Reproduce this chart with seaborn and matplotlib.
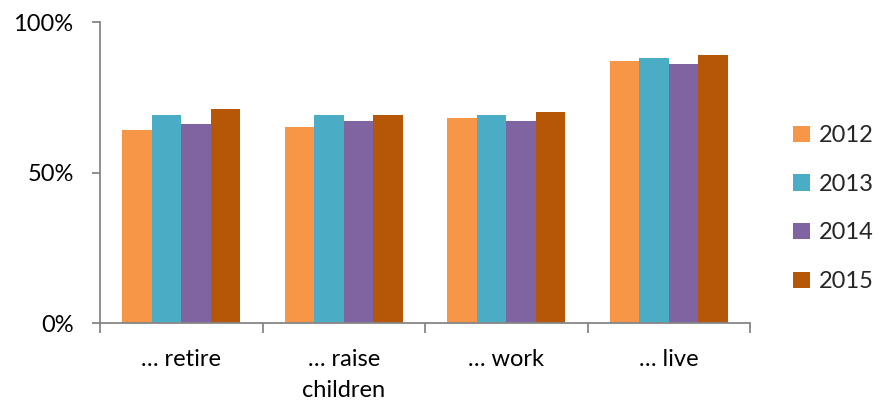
import matplotlib
matplotlib.use("Agg")
import matplotlib.pyplot as plt
from matplotlib.ticker import FixedLocator, FuncFormatter
import pandas as pd
import seaborn as sns

# 数据
places = ["… retire", "… raise\nchildren", "… work", "… live"]
years = ["2012", "2013", "2014", "2015"]
share_2012 = [64, 65, 68, 87]
share_2013 = [69, 69, 69, 88]
share_2014 = [66, 67, 67, 86]
share_2015 = [71, 69, 70, 89]
colors = ["#F79646", "#4BACC6", "#8064A2", "#B65708"]


def build_frame():
    rows = []
    for year, vals in zip(years, [share_2012, share_2013, share_2014, share_2015]):
        for place, v in zip(places, vals):
            rows.append({"place": place, "year": year, "share": v})
    return pd.DataFrame(rows)


def main():
    data = build_frame()

    sns.set_theme(style="white")
    plt.rcParams["font.family"] = ["Lato", "DejaVu Sans"]

    fig = plt.figure(figsize=(8.86, 4.03), dpi=100)
    ax = fig.add_axes([0.1129, 0.1985, 0.8465 - 0.1129, 0.9454 - 0.1985])

    sns.barplot(data=data, x="place", y="share", hue="year", order=places,
                hue_order=years, palette=colors, saturation=1, width=0.726,
                linewidth=0, ax=ax)

    axis_color = "#868686"
    ax.set_xlim(-0.5, 3.5)
    ax.set_ylim(0, 100)
    ax.set_yticks([0, 50, 100])
    ax.yaxis.set_major_formatter(FuncFormatter(lambda v, p: f"{v:.0f}%"))
    ax.xaxis.set_minor_locator(FixedLocator([-0.5, 0.5, 1.5, 2.5, 3.5]))

    for side in ["top", "right"]:
        ax.spines[side].set_visible(False)
    for side in ["left", "bottom"]:
        ax.spines[side].set_color(axis_color)
        ax.spines[side].set_linewidth(1.3)

    ax.tick_params(axis="y", which="major", direction="out", length=6, width=1.3,
                   color=axis_color, left=True, pad=13, labelsize=17, labelcolor="black")
    ax.tick_params(axis="x", which="major", length=0, pad=19, labelsize=17,
                   labelcolor="black")
    ax.tick_params(axis="x", which="minor", direction="out", length=7, width=1.3,
                   color=axis_color, bottom=True)
    for lbl in ax.get_xticklabels():
        lbl.set_linespacing(1.55)
        lbl.set_verticalalignment("top")

    ax.set_xlabel("")
    ax.set_ylabel("")
    ax.grid(False)

    ax.legend(title=None, frameon=False, fontsize=17, loc="center left",
              bbox_to_anchor=(1.052, 0.38), handlelength=0.7, handleheight=0.7,
              handletextpad=0.4, labelspacing=1.17, borderaxespad=0)

    fig.savefig("out.png", dpi=100)
    plt.close(fig)


if __name__ == "__main__":
    main()
